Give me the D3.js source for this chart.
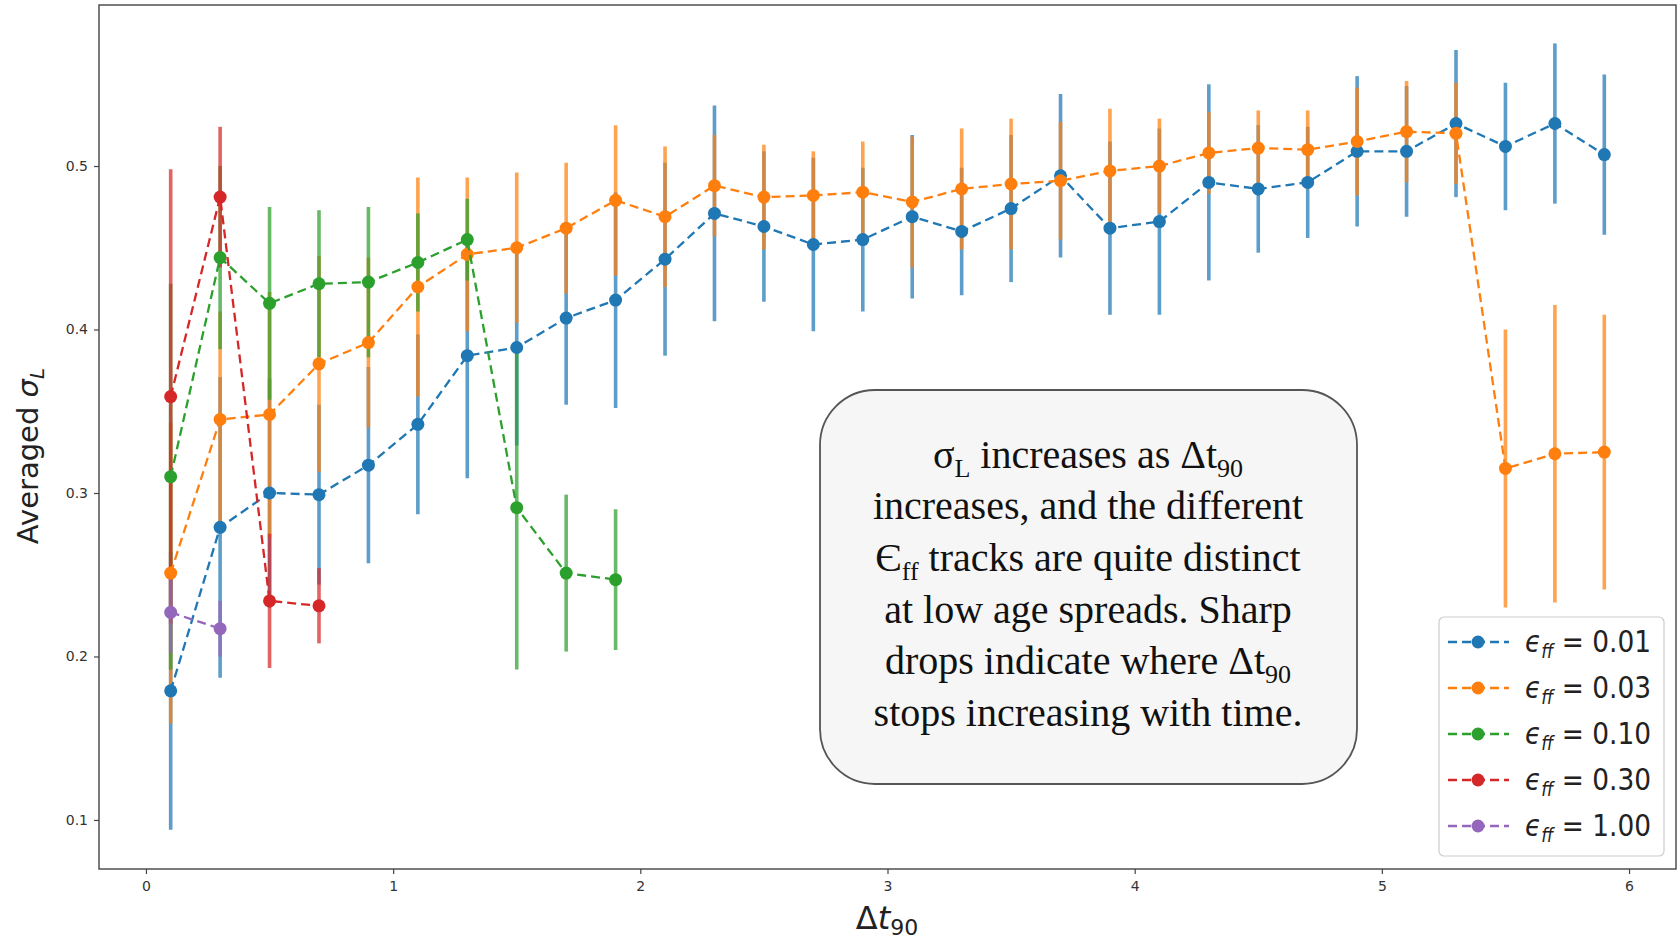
<!DOCTYPE html>
<html><head><meta charset="utf-8">
<script src="https://cdn.jsdelivr.net/npm/d3@7"></script>
<style>body{margin:0;background:#fff} svg{display:block}</style>
</head><body>
<svg id="chart" width="1678" height="941"></svg>
<script>
// ---------- data ----------
const xValues = [0.1,0.3,0.5,0.7,0.9,1.1,1.3,1.5,1.7,1.9,2.1,2.3,2.5,2.7,2.9,3.1,3.3,3.5,3.7,3.9,4.1,4.3,4.5,4.7,4.9,5.1,5.3,5.5,5.7,5.9];

const mean001 = [0.179,0.279,0.300,0.299,0.317,0.342,0.384,0.389,0.407,0.418,0.443,0.471,0.463,0.452,0.455,0.469,0.460,0.474,0.494,0.462,0.466,0.490,0.486,0.490,0.509,0.509,0.526,0.512,0.526,0.507];
const err001  = [0.085,0.092,0.070,0.055,0.060,0.055,0.075,0.060,0.053,0.066,0.059,0.066,0.046,0.053,0.044,0.050,0.039,0.045,0.050,0.053,0.057,0.060,0.039,0.034,0.046,0.040,0.045,0.039,0.049,0.049];

const mean003 = [0.251,0.345,0.348,0.379,0.392,0.426,0.446,0.450,0.462,0.479,0.469,0.488,0.481,0.482,0.484,0.478,0.486,0.489,0.491,0.497,0.500,0.508,0.511,0.510,0.515,0.521,0.520,0.315,0.324,0.325];
const err003  = [0.092,0.066,0.075,0.066,0.052,0.067,0.047,0.046,0.040,0.046,0.043,0.031,0.032,0.027,0.031,0.040,0.037,0.040,0.036,0.038,0.029,0.025,0.023,0.024,0.033,0.031,0.031,0.085,0.091,0.084];

const mean010 = [0.310,0.444,0.416,0.428,0.429,0.441,0.455,0.291,0.251,0.247];
const err010  = [0.118,0.056,0.059,0.045,0.046,0.030,0.025,0.099,0.048,0.043];

const mean030 = [0.359,0.481,0.234,0.231];
const err030  = [0.139,0.043,0.041,0.023];

const mean100 = [0.227,0.217];
const err100  = [0.025,0.017];

const seriesLabels = ["0.01","0.03","0.10","0.30","1.00"];
const seriesColors = ["#1f77b4","#ff7f0e","#2ca02c","#d62728","#9467bd"];
const xTicks = [0,1,2,3,4,5,6];
const yTicks = [0.1,0.2,0.3,0.4,0.5];

const noteLines = [
  [["σ",""],["L","sub"],[" increases as Δt",""],["90","sub"]],
  [["increases, and the different",""]],
  [["Є",""],["ff","sub"],[" tracks are quite distinct",""]],
  [["at low age spreads. Sharp",""]],
  [["drops indicate where Δt",""],["90","sub"]],
  [["stops increasing with time.",""]]
];

// ---------- build ----------
const means = [mean001, mean003, mean010, mean030, mean100];
const errs  = [err001, err003, err010, err030, err100];
const series = means.map((m,i)=>({
  label: seriesLabels[i], color: seriesColors[i],
  pts: m.map((v,j)=>({x:xValues[j], y:v, e:errs[i][j]}))
}));

const svg = d3.select("#chart");
const L=99, R=1676, T=5, B=869;
const x = d3.scaleLinear().domain([-0.19,6.19]).range([L,R]);
const y = d3.scaleLinear().domain([0.07,0.5985]).range([B,T]);

svg.append("rect").attr("width",1678).attr("height",941).attr("fill","#fff");

// axes
const ax = svg.append("g").attr("transform",`translate(0,${B})`)
  .call(d3.axisBottom(x).tickValues(xTicks).tickFormat(d3.format("d")).tickSize(5).tickPadding(7));
const ay = svg.append("g").attr("transform",`translate(${L},0)`)
  .call(d3.axisLeft(y).tickValues(yTicks).tickFormat(d3.format(".1f")).tickSize(5).tickPadding(6));
[ax,ay].forEach(g=>{
  g.select(".domain").remove();
  g.selectAll(".tick line").attr("stroke","#444").attr("stroke-width",1.2);
  g.selectAll(".tick text").attr("fill","#333").style("font-family","DejaVu Sans").style("font-size","14px");
});

// error bars (all under lines)
const gBars = svg.append("g");
series.forEach(s=>{
  gBars.selectAll(null).data(s.pts).enter().append("line")
    .attr("x1",d=>x(d.x)).attr("x2",d=>x(d.x))
    .attr("y1",d=>y(d.y-d.e)).attr("y2",d=>y(d.y+d.e))
    .attr("stroke",s.color).attr("stroke-width",3.6).attr("stroke-opacity",0.72);
});

// lines + markers
const line = d3.line().x(d=>x(d.x)).y(d=>y(d.y));
series.forEach(s=>{
  const g = svg.append("g");
  g.append("path").datum(s.pts).attr("d",line).attr("fill","none")
    .attr("stroke",s.color).attr("stroke-width",2.3).attr("stroke-dasharray","9,5");
  g.selectAll("circle").data(s.pts).enter().append("circle")
    .attr("cx",d=>x(d.x)).attr("cy",d=>y(d.y)).attr("r",6.5).attr("fill",s.color);
});

// frame
svg.append("rect").attr("x",L).attr("y",T).attr("width",R-L).attr("height",B-T)
  .attr("fill","none").attr("stroke","#444").attr("stroke-width",1.4);

// axis labels
const yl = svg.append("text").attr("transform","translate(38,456) rotate(-90)")
  .attr("text-anchor","middle").style("font-family","DejaVu Sans").style("font-size","29px").attr("fill","#222");
yl.append("tspan").text("Averaged ");
yl.append("tspan").text("σ").style("font-style","italic");
yl.append("tspan").text("L").style("font-style","italic").style("font-size","20px").attr("dy",6);

const xl = svg.append("text").attr("x",887).attr("y",929)
  .attr("text-anchor","middle").style("font-family","DejaVu Sans").style("font-size","32px").attr("fill","#222");
xl.append("tspan").text("Δ");
xl.append("tspan").text("t").style("font-style","italic");
xl.append("tspan").text("90").style("font-size","22px").attr("dy",6);

// annotation box
svg.append("rect").attr("x",820).attr("y",390).attr("width",537).attr("height",394)
  .attr("rx",55).attr("ry",55).attr("fill","#f6f6f6").attr("stroke","#555").attr("stroke-width",1.8);
const lineY = [468,519,571,623,674,726];
noteLines.forEach((segs,i)=>{
  const t = svg.append("text").attr("x",1088).attr("y",lineY[i]).attr("text-anchor","middle")
    .style("font-family","Liberation Serif").style("font-size","40px").attr("fill","#111");
  let shifted = false;
  segs.forEach(([txt,kind])=>{
    const ts = t.append("tspan").text(txt);
    if(kind==="sub"){ ts.style("font-size","26px").attr("dy",9); shifted=true; }
    else if(shifted){ ts.attr("dy",-9); shifted=false; }
  });
});

// legend
const lg = svg.append("g");
lg.append("rect").attr("x",1439).attr("y",617).attr("width",225).attr("height",239)
  .attr("rx",5).attr("fill","#fff").attr("fill-opacity",0.85).attr("stroke","#ccc").attr("stroke-width",1.2);
series.forEach((s,i)=>{
  const cy = 642 + i*46;
  lg.append("line").attr("x1",1447).attr("x2",1509).attr("y1",cy).attr("y2",cy)
    .attr("stroke",s.color).attr("stroke-width",2.3).attr("stroke-dasharray","9,5").attr("stroke-dashoffset",-1);
  lg.append("circle").attr("cx",1478).attr("cy",cy).attr("r",6.5).attr("fill",s.color);
  const t = lg.append("text").attr("transform",`translate(1525,${cy+10}) scale(0.88,1)`)
    .style("font-family","DejaVu Sans").style("font-size","30px").attr("fill","#222");
  t.append("tspan").text("ϵ").style("font-style","italic");
  t.append("tspan").text("ff").style("font-style","italic").style("font-size","19px").attr("dy",6);
  t.append("tspan").text(" = " + s.label).attr("dy",-6);
});
</script>
</body></html>
